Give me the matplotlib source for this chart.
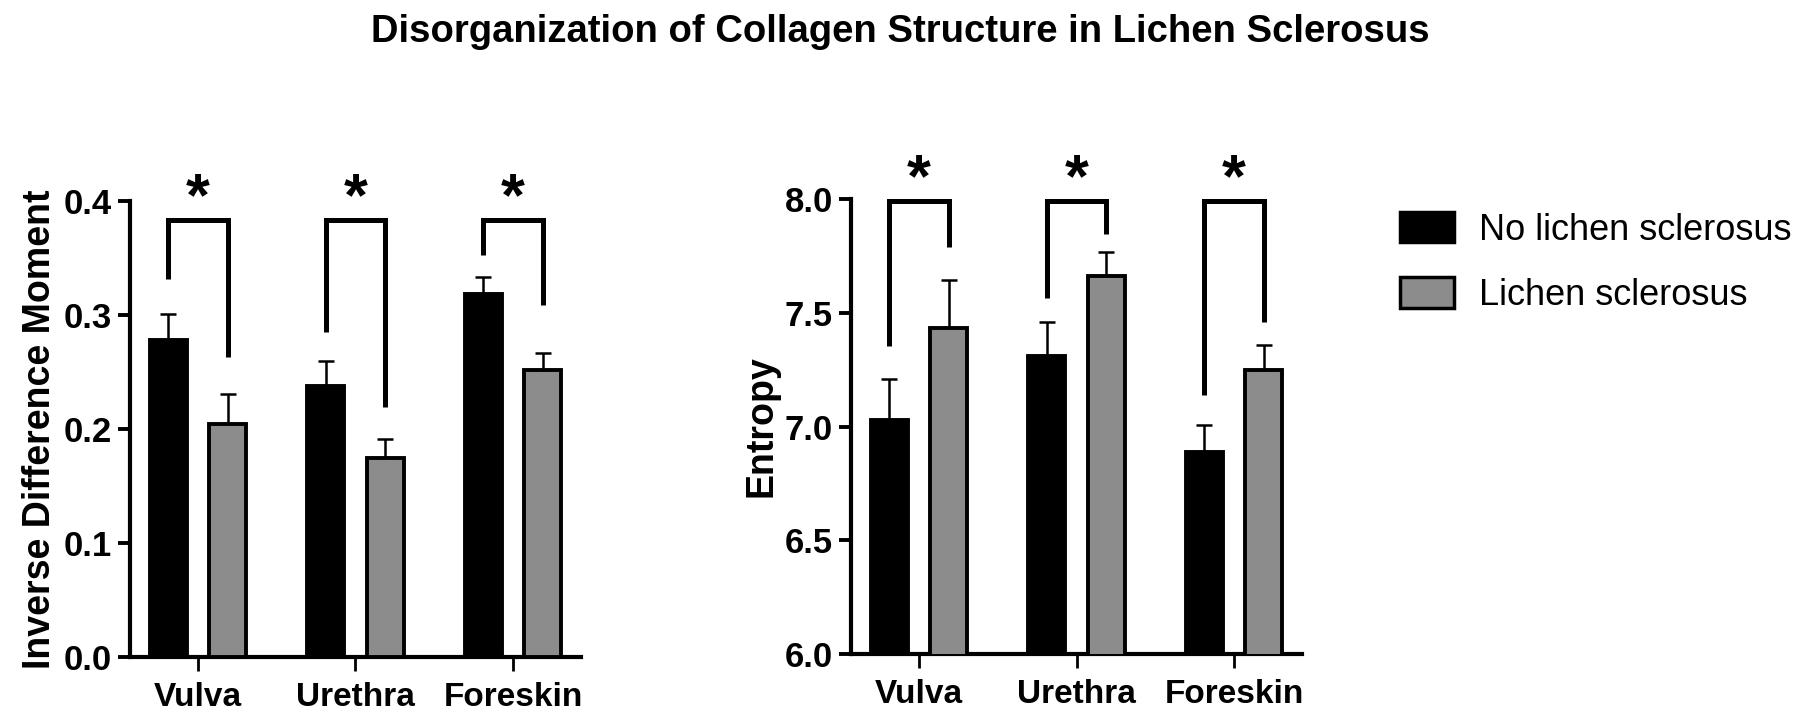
import numpy as np
import matplotlib.pyplot as plt
from matplotlib.patches import Patch

plt.rcParams['font.family'] = ['Liberation Sans', 'DejaVu Sans']
plt.rcParams['font.weight'] = 'bold'

# --- data ---
sites = ['Vulva', 'Urethra', 'Foreskin']
groups = ['No lichen sclerosus', 'Lichen sclerosus']

idm_no = [0.278, 0.238, 0.318]
idm_no_err = [0.023, 0.022, 0.015]
idm_ls = [0.204, 0.175, 0.252]
idm_ls_err = [0.027, 0.016, 0.015]

ent_no = [7.03, 7.31, 6.886]
ent_no_err = [0.18, 0.15, 0.12]
ent_ls = [7.434, 7.66, 7.25]
ent_ls_err = [0.21, 0.105, 0.11]

# significance brackets: top, left leg bottom, right leg bottom
idm_br_top = [0.383, 0.383, 0.383]
idm_br_left = [0.332, 0.285, 0.353]
idm_br_right = [0.263, 0.219, 0.309]

ent_br_top = [7.99, 7.99, 7.99]
ent_br_left = [7.354, 7.566, 7.137]
ent_br_right = [7.79, 7.844, 7.46]

c_no = 'black'
c_ls = '#8c8c8c'


def draw_panel(ax, v_no, e_no, v_ls, e_ls, br_top, br_l, br_r, ylim, yticks, ylabel, star_off):
    x = np.arange(len(sites))
    off = 0.19
    w = 0.235
    ax.bar(x - off, v_no, width=w, color=c_no, edgecolor='black', linewidth=2.8, zorder=3)
    ax.bar(x + off, v_ls, width=w, color=c_ls, edgecolor='black', linewidth=2.8, zorder=3)
    ax.errorbar(x - off, v_no, yerr=[np.zeros(len(x)), e_no], fmt='none', ecolor='black',
                elinewidth=1.8, capsize=6, capthick=1.8, zorder=2)
    ax.errorbar(x + off, v_ls, yerr=[np.zeros(len(x)), e_ls], fmt='none', ecolor='black',
                elinewidth=1.8, capsize=6, capthick=1.8, zorder=2)

    # brackets with asterisks
    for i in range(len(x)):
        ax.plot([x[i] - off, x[i] - off, x[i] + off, x[i] + off],
                [br_l[i], br_top[i], br_top[i], br_r[i]],
                color='black', lw=3.6, solid_joinstyle='miter', solid_capstyle='butt',
                clip_on=False, zorder=4)
        ax.text(x[i], br_top[i] + star_off, '*', ha='center', va='center',
                fontsize=44, fontweight='bold', clip_on=False)

    ax.set_xlim(-0.432, 2.432)
    ax.set_ylim(*ylim)
    ax.set_yticks(yticks)
    ax.set_yticklabels(['%.1f' % t for t in yticks])
    ax.set_xticks(x)
    ax.set_xticklabels(sites)
    ax.set_ylabel(ylabel, fontsize=27, fontweight='bold', labelpad=4)

    for s in ['top', 'right']:
        ax.spines[s].set_visible(False)
    for s in ['left', 'bottom']:
        ax.spines[s].set_linewidth(3.0)
    ax.tick_params(axis='y', length=9, width=2.8, labelsize=25, pad=4)
    ax.tick_params(axis='x', length=10, width=2.0, labelsize=24, pad=8)


fig = plt.figure(figsize=(18, 7.24), dpi=100)

ax1 = fig.add_axes([130 / 1800, 1 - 657 / 724, 451 / 1800, 456 / 724])
draw_panel(ax1, idm_no, idm_no_err, idm_ls, idm_ls_err,
           idm_br_top, idm_br_left, idm_br_right,
           (0, 0.4), [0.0, 0.1, 0.2, 0.3, 0.4], 'Inverse Difference Moment', 0.018)

ax2 = fig.add_axes([851 / 1800, 1 - 654 / 724, 451 / 1800, 455 / 724])
draw_panel(ax2, ent_no, ent_no_err, ent_ls, ent_ls_err,
           ent_br_top, ent_br_left, ent_br_right,
           (6.0, 8.0), [6.0, 6.5, 7.0, 7.5, 8.0], 'Entropy', 0.09)

fig.suptitle('Disorganization of Collagen Structure in Lichen Sclerosus',
             fontsize=27.5, fontweight='bold', x=0.5, y=1 - 14 / 724, va='top')

handles = [Patch(facecolor=c_no, edgecolor='black', linewidth=2.5),
           Patch(facecolor=c_ls, edgecolor='black', linewidth=2.5)]
fig.legend(handles, groups, loc='upper left', bbox_to_anchor=(1400 / 1800, 1 - 212 / 724),
           frameon=False, borderpad=0, borderaxespad=0,
           prop={'size': 26, 'weight': 'normal'},
           handlelength=1.5, handleheight=0.92, handletextpad=0.7, labelspacing=0.82)

fig.savefig('out.png', dpi=100)
